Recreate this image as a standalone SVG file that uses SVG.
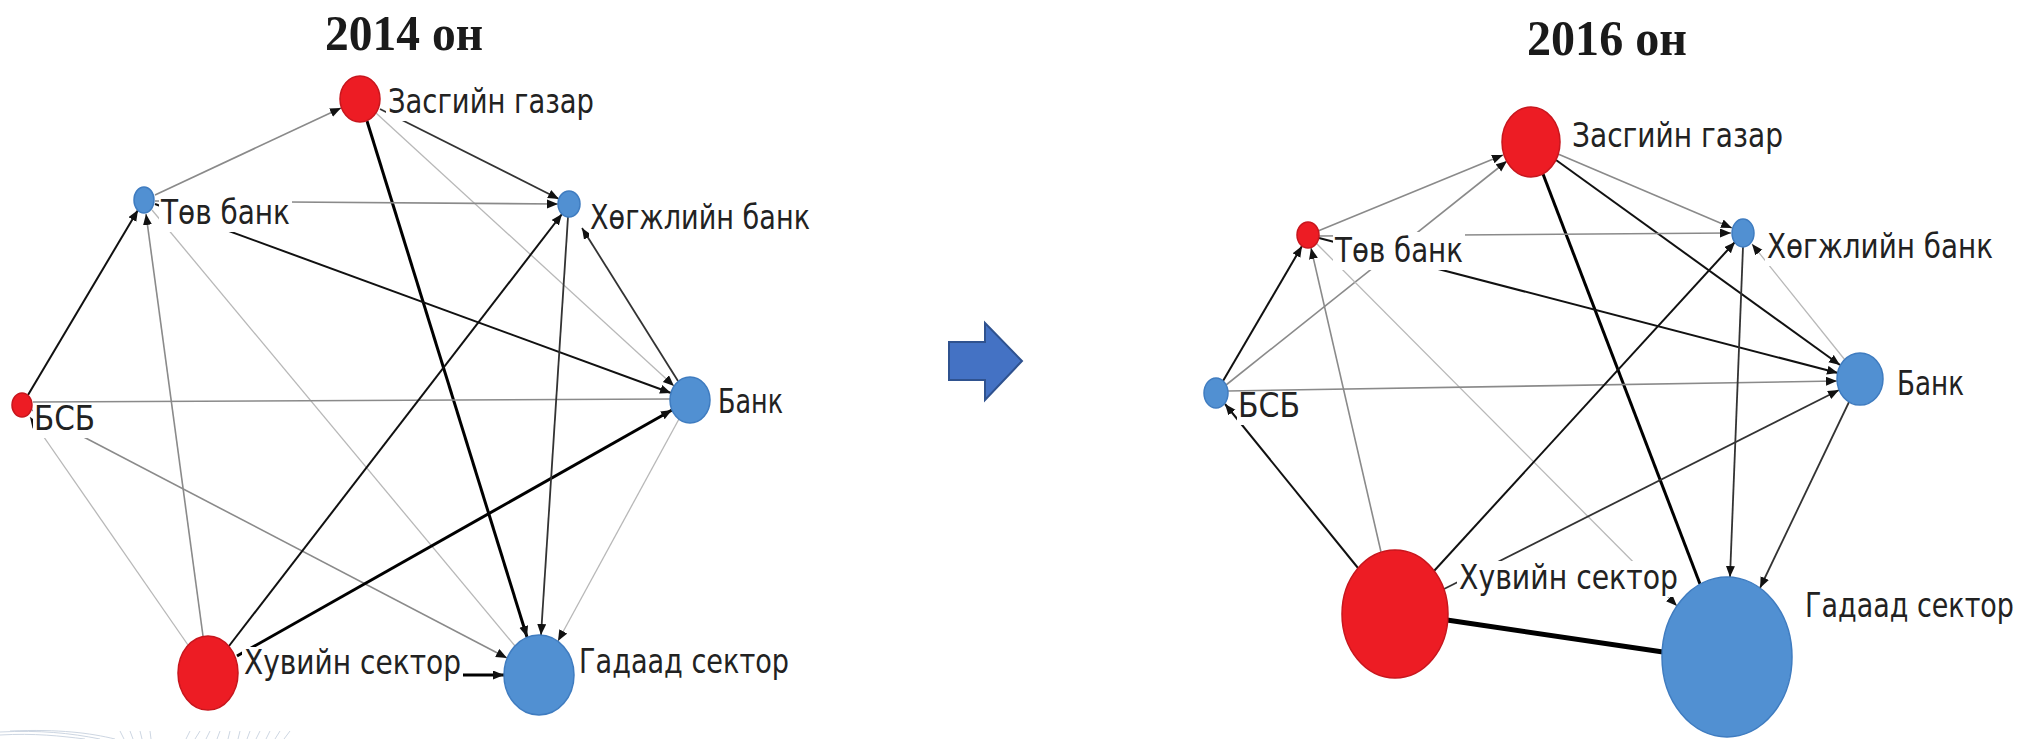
<svg xmlns="http://www.w3.org/2000/svg" width="2025" height="739" viewBox="0 0 2025 739">
<defs>
<marker id="ah" markerUnits="userSpaceOnUse" markerWidth="12" markerHeight="10" refX="11" refY="4.5" orient="auto">
<path d="M0,0 L11,4.5 L0,9 z" fill="#111"/>
</marker>
<style>
.e line{fill:none}
.lt{stroke:#b8b8b8;stroke-width:1.3}
.gr{stroke:#8a8a8a;stroke-width:1.6}
.dk{stroke:#333;stroke-width:1.8}
.bk{stroke:#111;stroke-width:2}
.th{stroke:#000;stroke-width:3}
.xth{stroke:#000;stroke-width:5}
.a{marker-end:url(#ah)}
.red{fill:#ED1C24;stroke:#c8161d;stroke-width:1.5}
.blue{fill:#5190D2;stroke:#3f7cc0;stroke-width:1.5}
.bg{fill:#fff}
.lbl{font-family:"DejaVu Sans","Noto Sans",sans-serif;font-size:28px;fill:#222}
.ttl{font-family:"Liberation Serif","Times New Roman",serif;font-weight:bold;font-size:50px;fill:#1a1a1a}
.wm{fill:none;stroke:#cdd6e2;stroke-width:1}
</style>
</defs>
<rect width="2025" height="739" fill="#fff"/>

<text class="ttl" x="325" y="50" textLength="158" lengthAdjust="spacingAndGlyphs">2014 он</text>
<text class="ttl" x="1527" y="55" textLength="160" lengthAdjust="spacingAndGlyphs">2016 он</text>

<g id="watermark">
<path class="wm" d="M0,732 C40,730 70,733 100,739 M0,735 C35,733 60,736 85,739 M10,731 C60,729 90,733 115,739 M120,731 L124,739 M130,731 L133,739 M140,731 L142,739 M150,731 L151,739 M190,731 L186,739 M200,731 L195,739 M210,731 L206,739 M220,731 L217,739 M230,731 L228,739 M240,731 L238,739 M250,731 L247,739 M260,731 L256,739 M270,731 L266,739 M280,731 L275,739 M290,731 L284,739"/>
</g>

<g id="transition-arrow">
<polygon points="949,342 985,342 985,323 1022,361 985,400 985,380 949,380" fill="#4472C4" stroke="#2F528F" stroke-width="2"/>
</g>

<g id="connectors-2014" class="e">
<line class="gr a" x1="155" y1="195" x2="341" y2="108"/>
<line class="dk a" x1="380" y1="109" x2="559" y2="199"/>
<line class="th a" x1="367" y1="121" x2="527" y2="637"/>
<line class="lt a" x1="376" y1="113" x2="674" y2="386"/>
<line class="gr a" x1="155" y1="201" x2="558" y2="204"/>
<line class="bk a" x1="155" y1="204" x2="671" y2="393"/>
<line class="lt" x1="152" y1="210" x2="515" y2="646"/>
<line class="gr a" x1="203" y1="636" x2="146" y2="214"/>
<line class="bk a" x1="28" y1="395" x2="138" y2="210"/>
<line class="gr" x1="33" y1="402" x2="670" y2="399"/>
<line class="lt a" x1="188" y1="645" x2="30" y2="417"/>
<line class="gr a" x1="32" y1="410" x2="507" y2="658"/>
<line class="bk a" x1="229" y1="646" x2="562" y2="214"/>
<line class="th a" x1="237" y1="656" x2="672" y2="410"/>
<line class="th a" x1="462" y1="675" x2="504" y2="675"/>
<line class="dk a" x1="568" y1="217" x2="541" y2="635"/>
<line class="dk a" x1="678" y1="381" x2="582" y2="228"/>
<line class="lt a" x1="679" y1="419" x2="558" y2="641"/>
</g>

<g id="connectors-2016" class="e">
<line class="gr a" x1="1318" y1="231" x2="1503" y2="155"/>
<line class="gr a" x1="1226" y1="385" x2="1507" y2="161"/>
<line class="gr a" x1="1558" y1="154" x2="1732" y2="228"/>
<line class="bk a" x1="1556" y1="160" x2="1840" y2="365"/>
<line class="th" x1="1543" y1="174" x2="1700" y2="584"/>
<line class="gr a" x1="1319" y1="236" x2="1731" y2="233"/>
<line class="bk a" x1="1319" y1="238" x2="1838" y2="373"/>
<line class="lt a" x1="1316" y1="243" x2="1677" y2="606"/>
<line class="bk a" x1="1223" y1="381" x2="1302" y2="246"/>
<line class="gr a" x1="1381" y1="552" x2="1311" y2="248"/>
<line class="gr a" x1="1228" y1="391" x2="1837" y2="381"/>
<line class="bk a" x1="1358" y1="568" x2="1225" y2="404"/>
<line class="bk a" x1="1434" y1="571" x2="1735" y2="242"/>
<line class="dk a" x1="1444" y1="589" x2="1839" y2="390"/>
<line class="xth" x1="1447" y1="620" x2="1663" y2="652"/>
<line class="dk a" x1="1743" y1="247" x2="1730" y2="577"/>
<line class="lt a" x1="1845" y1="360" x2="1752" y2="244"/>
<line class="dk a" x1="1849" y1="402" x2="1760" y2="588"/>
</g>

<g id="n2014-zasgiin-gazar"><ellipse class="red" cx="360" cy="99" rx="20" ry="23"/><rect class="bg" x="386" y="85" width="210" height="36"/><text class="lbl" transform="translate(388,113) scale(1,1.18)" textLength="206" lengthAdjust="spacingAndGlyphs">Засгийн газар</text></g>
<g id="n2014-tov-bank"><ellipse class="blue" cx="144" cy="200" rx="10" ry="13"/><rect class="bg" x="159" y="196" width="133" height="36"/><text class="lbl" transform="translate(161,224) scale(1,1.18)" textLength="129" lengthAdjust="spacingAndGlyphs">Төв банк</text></g>
<g id="n2014-hogjliin-bank"><ellipse class="blue" cx="569" cy="204" rx="11" ry="13"/><rect class="bg" x="589" y="201" width="223" height="36"/><text class="lbl" transform="translate(590,229) scale(1,1.18)" textLength="220" lengthAdjust="spacingAndGlyphs">Хөгжлийн банк</text></g>
<g id="n2014-bank"><ellipse class="blue" cx="690" cy="400" rx="20" ry="23"/><rect class="bg" x="716" y="387" width="69" height="34"/><text class="lbl" transform="translate(718,413) scale(1,1.18)" textLength="65" lengthAdjust="spacingAndGlyphs">Банк</text></g>
<g id="n2014-bsb"><ellipse class="red" cx="22" cy="405" rx="10" ry="12"/><rect class="bg" x="33" y="406" width="64" height="32"/><text class="lbl" transform="translate(34,430) scale(1,1.18)" textLength="61" lengthAdjust="spacingAndGlyphs">БСБ</text></g>
<g id="n2014-huviin-sektor"><ellipse class="red" cx="208" cy="673" rx="30" ry="37"/><rect class="bg" x="242" y="647" width="221" height="36"/><text class="lbl" transform="translate(244,674) scale(1,1.18)" textLength="217" lengthAdjust="spacingAndGlyphs">Хувийн сектор</text></g>
<g id="n2014-gadaad-sektor"><ellipse class="blue" cx="539" cy="675" rx="35" ry="40"/><rect class="bg" x="577" y="646" width="214" height="36"/><text class="lbl" transform="translate(579,673) scale(1,1.18)" textLength="210" lengthAdjust="spacingAndGlyphs">Гадаад сектор</text></g>

<g id="n2016-zasgiin-gazar"><ellipse class="red" cx="1531" cy="142" rx="29" ry="35"/><rect class="bg" x="1570" y="119" width="215" height="36"/><text class="lbl" transform="translate(1572,147) scale(1,1.18)" textLength="211" lengthAdjust="spacingAndGlyphs">Засгийн газар</text></g>
<g id="n2016-tov-bank"><ellipse class="red" cx="1308" cy="235" rx="11" ry="13"/><rect class="bg" x="1333" y="232" width="132" height="38"/><text class="lbl" transform="translate(1335,262) scale(1,1.18)" textLength="128" lengthAdjust="spacingAndGlyphs">Төв банк</text></g>
<g id="n2016-hogjliin-bank"><ellipse class="blue" cx="1743" cy="233" rx="11" ry="14"/><rect class="bg" x="1765" y="231" width="231" height="35"/><text class="lbl" transform="translate(1767,258) scale(1,1.18)" textLength="226" lengthAdjust="spacingAndGlyphs">Хөгжлийн банк</text></g>
<g id="n2016-bank"><ellipse class="blue" cx="1860" cy="379" rx="23" ry="26"/><rect class="bg" x="1895" y="368" width="71" height="35"/><text class="lbl" transform="translate(1897,395) scale(1,1.18)" textLength="67" lengthAdjust="spacingAndGlyphs">Банк</text></g>
<g id="n2016-bsb"><ellipse class="blue" cx="1216" cy="393" rx="12" ry="15"/><rect class="bg" x="1237" y="394" width="65" height="31"/><text class="lbl" transform="translate(1238,417) scale(1,1.18)" textLength="62" lengthAdjust="spacingAndGlyphs">БСБ</text></g>
<g id="n2016-huviin-sektor"><ellipse class="red" cx="1395" cy="614" rx="53" ry="64"/><rect class="bg" x="1457" y="561" width="223" height="36"/><text class="lbl" transform="translate(1459,589) scale(1,1.18)" textLength="219" lengthAdjust="spacingAndGlyphs">Хувийн сектор</text></g>
<g id="n2016-gadaad-sektor"><ellipse class="blue" cx="1727" cy="657" rx="65" ry="80"/><rect class="bg" x="1803" y="589" width="214" height="36"/><text class="lbl" transform="translate(1805,617) scale(1,1.18)" textLength="209" lengthAdjust="spacingAndGlyphs">Гадаад сектор</text></g>
</svg>
